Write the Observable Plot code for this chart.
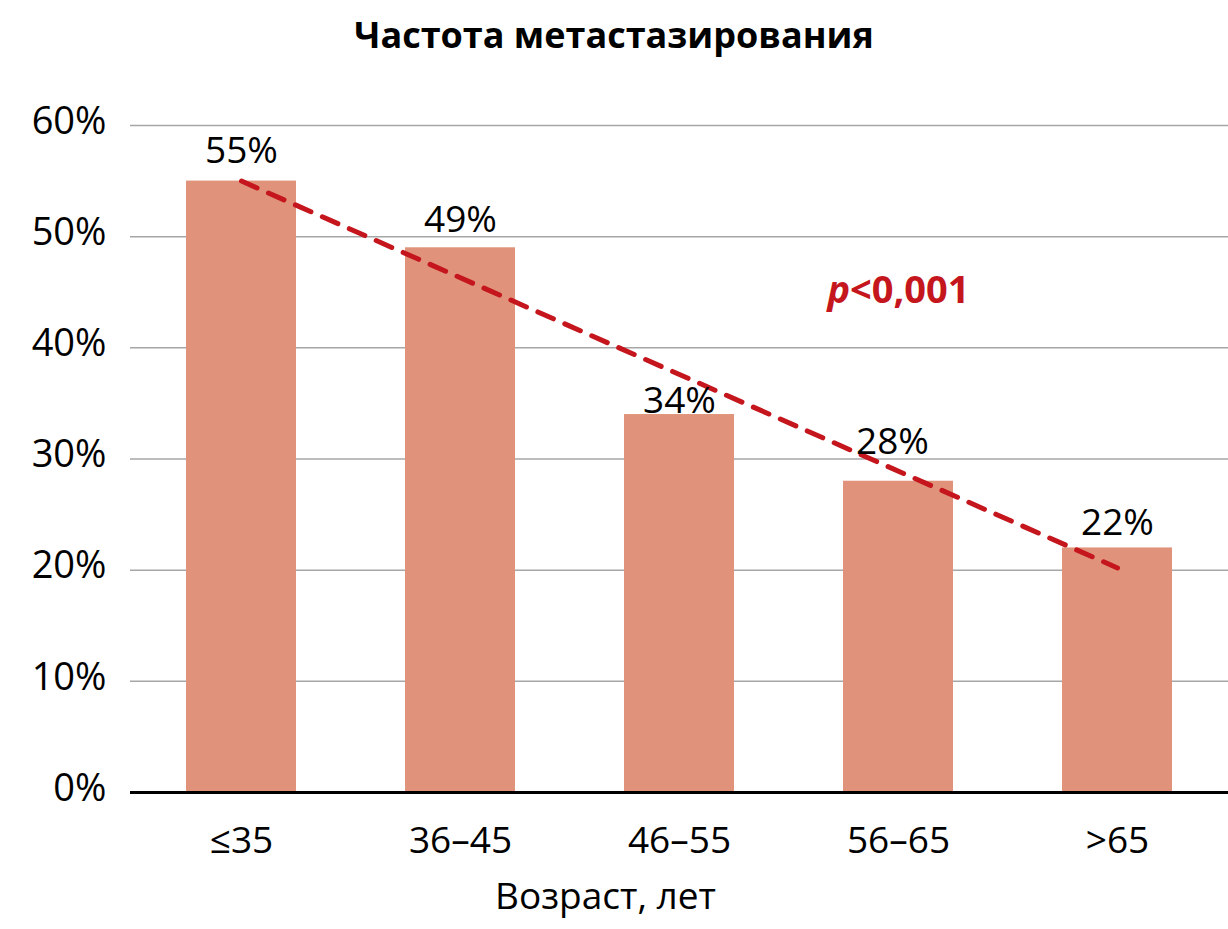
<!DOCTYPE html>
<html>
<head>
<meta charset="utf-8">
<script src="https://cdn.jsdelivr.net/npm/d3@7"></script>
<script src="https://cdn.jsdelivr.net/npm/@observablehq/plot@0.6"></script>
<style>
  html, body { margin: 0; padding: 0; background: #fff; }
  body { width: 1228px; font-family: "Open Sans", "Noto Sans", sans-serif; }
  #title { height: 70px; line-height: 70px; text-align: center; font-weight: 700; font-size: 36px; color: #000; }
  #chart svg { display: block; }
</style>
</head>
<body>
<div id="title">Частота метастазирования</div>
<div id="chart"></div>
<script>
// Data
const categories = ["≤35", "36–45", "46–55", "56–65", ">65"];
const values = [55, 49, 34, 28, 22];
const valueLabels = ["55%", "49%", "34%", "28%", "22%"];
const trendCategories = ["≤35", ">65"];
const trendValues = [55, 20.2];
const yTicks = [0, 10, 20, 30, 40, 50, 60];
const xAxisLabel = "Возраст, лет";
const pLabel = "p<0,001";

// Styling (label nudges as in the original)
const labelGap = [18, 16, 2, 27, 13];
const labelShiftX = [0, 0, 0, -6, 0];

const bars = categories.map((c, i) => ({category: c, value: values[i], label: valueLabels[i], i}));
const trend = trendCategories.map((c, i) => ({category: c, value: trendValues[i]}));

const barColor = "#e0937a";
const red = "#c4161c";
const font = "\"Open Sans\", \"Noto Sans\", sans-serif";

const labelMarks = bars.map(d => Plot.text([d], {
  x: "category", y: "value", text: "label",
  dy: -labelGap[d.i], dx: labelShiftX[d.i],
  lineAnchor: "bottom", fontSize: 37, fill: "#000"
}));

const chart = Plot.plot({
  width: 1228,
  height: 859,
  marginLeft: 130,
  marginRight: 0,
  marginTop: 55,
  marginBottom: 137,
  style: {fontFamily: font, background: "#fff"},
  x: {domain: categories, paddingInner: 0.5, paddingOuter: 0.25, label: null},
  y: {domain: [0, 60], ticks: yTicks, label: null},
  marks: [
    Plot.ruleY(yTicks.filter(t => t > 0), {stroke: "#a6a6a6", strokeWidth: 1.5}),
    Plot.barY(bars, {x: "category", y: "value", fill: barColor}),
    Plot.ruleY([0], {stroke: "#000", strokeWidth: 3}),
    Plot.line(trend, {x: "category", y: "value", stroke: red, strokeWidth: 5,
      strokeDasharray: "17,12.45", strokeLinecap: "round"}),
    ...labelMarks,
    Plot.text([pLabel], {x: () => "56–65", y: () => 45, text: d => d, fill: red,
      fontSize: 38, fontWeight: "bold", lineAnchor: "middle", className: "pval", dy: -1}),
    Plot.axisY({ticks: yTicks, tickFormat: d => d + "%", tickSize: 0, tickPadding: 24,
      fontSize: 38, label: null, fill: "#000", dy: -4}),
    Plot.axisX({tickSize: 0, tickPadding: 34, fontSize: 37, label: null, fill: "#000"}),
    Plot.text([xAxisLabel], {frameAnchor: "bottom", dy: 116, text: d => d, fontSize: 37, dx: -74, fill: "#000"})
  ]
});

document.getElementById("chart").appendChild(chart);

// Italic "p" in p-value label
d3.select(chart).selectAll(".pval text").each(function() {
  const t = d3.select(this);
  const s = t.text();
  t.text(null);
  t.append("tspan").attr("font-style", "italic").text(s.slice(0, 1));
  t.append("tspan").text(s.slice(1));
});
</script>
</body>
</html>
